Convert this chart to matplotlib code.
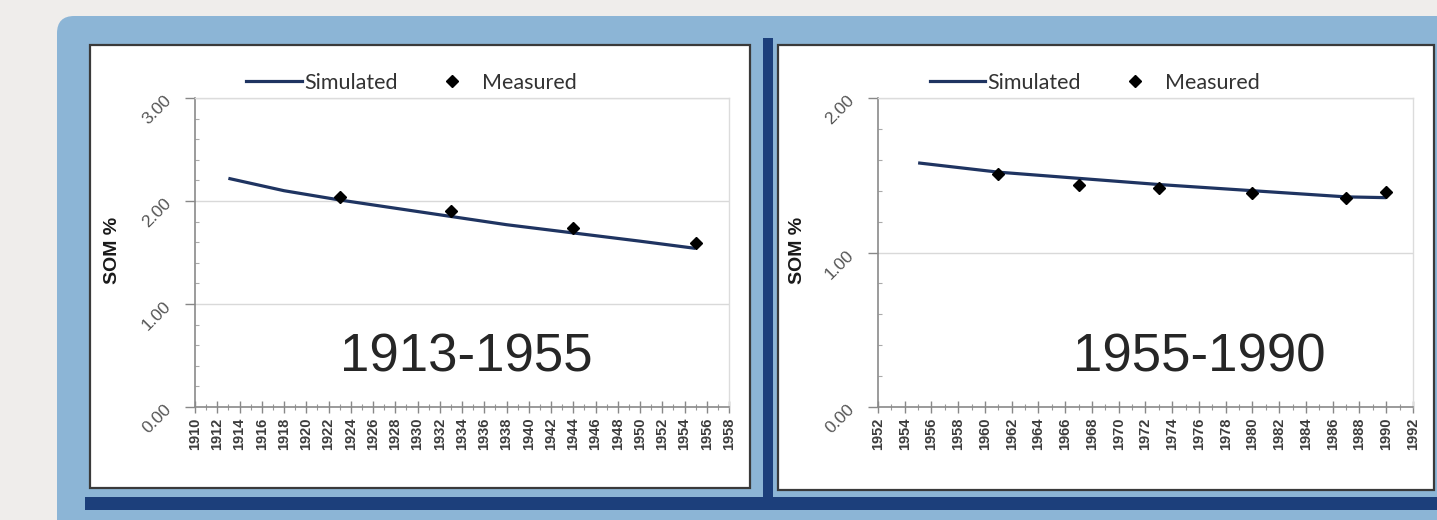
import matplotlib
matplotlib.use("Agg")
import matplotlib.pyplot as plt
from matplotlib.patches import Rectangle, FancyBboxPatch
from matplotlib.lines import Line2D
import numpy as np

# ---------------- data ----------------
sim1_years = [1913, 1918, 1923, 1928, 1933, 1938, 1944, 1950, 1955]
sim1_som = [2.22, 2.10, 2.01, 1.93, 1.85, 1.77, 1.69, 1.61, 1.54]
meas1_years = [1923, 1933, 1944, 1955]
meas1_som = [2.04, 1.90, 1.74, 1.59]

sim2_years = [1955, 1961, 1967, 1973, 1980, 1987, 1990]
sim2_som = [1.58, 1.52, 1.48, 1.44, 1.40, 1.36, 1.355]
meas2_years = [1961, 1967, 1973, 1980, 1987, 1990]
meas2_som = [1.51, 1.44, 1.42, 1.385, 1.35, 1.39]

period1 = "1913-1955"
period2 = "1955-1990"
ylabel = "SOM %"
legend_labels = ["Simulated", "Measured"]

W, H = 1437, 520
fig = plt.figure(figsize=(W / 100, H / 100), dpi=100, facecolor="#efedeb")


def box(x0, y0, x1, y1):
    """pixel box (top-left origin) -> figure fraction rect"""
    return (x0 / W, 1 - y1 / H, (x1 - x0) / W, (y1 - y0) / H)


def add_rect(x0, y0, x1, y1, **kw):
    l, b, w, h = box(x0, y0, x1, y1)
    r = Rectangle((l, b), w, h, transform=fig.transFigure, **kw)
    fig.add_artist(r)
    return r


# blue rounded panel
l, b, w, h = box(57, 16, 1470, 560)
fig.add_artist(FancyBboxPatch((l, b), w, h, boxstyle="round,pad=0,rounding_size=0.012",
                              transform=fig.transFigure, facecolor="#8cb5d6",
                              edgecolor="none", zorder=0, mutation_aspect=W / H))
# navy bars
add_rect(763, 38, 773, 506, facecolor="#1c3f7b", edgecolor="none", zorder=1)
add_rect(85, 497, 1437, 510, facecolor="#1c3f7b", edgecolor="none", zorder=1)
# white boxes
add_rect(90, 45, 750, 488, facecolor="white", edgecolor="#3a3a3a", linewidth=1.6, zorder=2)
add_rect(778, 45, 1434, 490, facecolor="white", edgecolor="#3a3a3a", linewidth=1.6, zorder=2)

line_color = "#1f3461"
label_font = ["Liberation Sans", "DejaVu Sans"]
legend_font = ["Lato", "DejaVu Sans"]


def make_axes(px_left, px_right, xmin, xmax, ymax, sim_x, sim_y, meas_x, meas_y,
              period, period_x, ylab_x):
    rect = (px_left / W, 1 - 407 / H, (px_right - px_left) / W, (407 - 98) / H)
    ax = fig.add_axes(rect, facecolor="none", zorder=5)
    ax.set_xlim(xmin, xmax)
    ax.set_ylim(0, ymax)

    ax.plot(sim_x, sim_y, color=line_color, lw=2.3, solid_capstyle="butt",
            label=legend_labels[0], zorder=3)
    ax.plot(meas_x, meas_y, linestyle="none", marker="D", markersize=6.5,
            color="black", label=legend_labels[1], zorder=4)

    # grid
    ax.set_yticks(np.arange(0, ymax + 0.01, 1.0))
    ax.set_yticks(np.arange(0, ymax + 0.01, 0.2), minor=True)
    ax.grid(axis="y", which="major", color="#d9d9d9", lw=1.0)
    ax.set_axisbelow(True)
    ax.set_yticklabels([f"{v:.2f}" for v in np.arange(0, ymax + 0.01, 1.0)],
                       rotation=45, rotation_mode="anchor", ha="right", va="center",
                       fontsize=12.5, color="#555555", family=label_font)

    ax.set_xticks(np.arange(xmin, xmax + 1, 2))
    ax.set_xticks(np.arange(xmin, xmax + 1, 1), minor=True)
    ax.set_xticklabels([str(v) for v in range(xmin, xmax + 1, 2)], rotation=90,
                       fontsize=10.5, fontweight="bold", color="#3c3c3c",
                       family=label_font)

    ax.tick_params(axis="y", which="major", direction="out", length=7, width=1,
                   color="#888888", pad=12)
    ax.tick_params(axis="y", which="minor", direction="in", length=3, width=0.8,
                   color="#aaaaaa")
    ax.tick_params(axis="x", which="major", direction="inout", length=9, width=1,
                   color="#888888", pad=3)
    ax.tick_params(axis="x", which="minor", direction="inout", length=5, width=0.8,
                   color="#999999")

    for s in ["left", "bottom"]:
        ax.spines[s].set_color("#8a8a8a")
        ax.spines[s].set_linewidth(1.2)
    for s in ["top", "right"]:
        ax.spines[s].set_color("#dcdcdc")
        ax.spines[s].set_linewidth(1.0)

    ax.text(period_x, 0.159, period, transform=ax.transAxes, ha="center", va="center",
            fontsize=38, color="#262626", family=label_font)

    fig.text(ylab_x / W, 1 - 250 / H, ylabel, rotation=90, ha="center", va="center",
             fontsize=14, fontweight="bold", color="#1a1a1a", family=label_font)

    handles = [Line2D([], [], color=line_color, lw=2.3),
               Line2D([], [], linestyle="none", marker="D", markersize=6, color="black")]
    ax.legend(handles, legend_labels, loc="center", bbox_to_anchor=(0.405, 1.05),
              ncol=2, frameon=False, handlelength=2.6, handletextpad=0.1,
              columnspacing=1.2, prop={"family": legend_font, "size": 15.5},
              labelcolor="#333333")
    return ax


make_axes(195, 729, 1910, 1958, 3.0, sim1_years, sim1_som, meas1_years, meas1_som,
          period1, 0.509, 112)
make_axes(878, 1413, 1952, 1992, 2.0, sim2_years, sim2_som, meas2_years, meas2_som,
          period2, 0.60, 797)

fig.savefig("out.png", dpi=100, facecolor=fig.get_facecolor())
